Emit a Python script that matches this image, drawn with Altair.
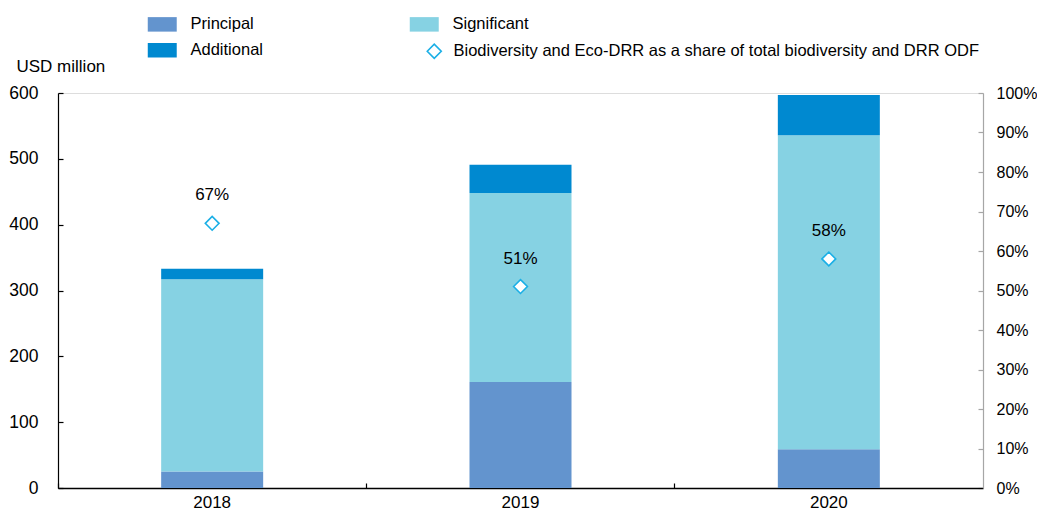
import altair as alt
import pandas as pd

years = ["2018", "2019", "2020"]
principal = [25, 161, 59]
significant = [292, 287, 477]
additional = [16, 43, 61]
share = [0.67, 0.51, 0.58]
categories = ["Principal", "Significant", "Additional"]
legend_order = ["Principal", "Additional", "Significant"]
colors = {"Principal": "#6394CE", "Significant": "#86D2E3", "Additional": "#0089D0"}
share_label = "Biodiversity and Eco-DRR as a share of total biodiversity and DRR ODF"
left_ticks = [0, 100, 200, 300, 400, 500, 600]
right_ticks = [0, 0.1, 0.2, 0.3, 0.4, 0.5, 0.6, 0.7, 0.8, 0.9, 1.0]

rows = []
for i, yr in enumerate(years):
    for j, (c, vals) in enumerate(zip(categories, [principal, significant, additional])):
        rows.append({"year": yr, "category": c, "value": vals[i], "order": j})
bars_df = pd.DataFrame(rows)
share_df = pd.DataFrame({"year": years, "share": share, "series": [share_label] * 3})

FONT = "Liberation Sans"
FS = 17
LFS = 16.5
DIAMOND = "#1AAFE6"
W = 925
H = 395

x_enc = alt.X(
    "year:N", title=None,
    scale=alt.Scale(paddingInner=0, paddingOuter=0),
    axis=alt.Axis(labelAngle=0, domainColor="black", domainWidth=1.5, ticks=False,
                  grid=True, gridDash=[0, H - 5, 6, 10000], gridColor="black", gridWidth=1.2,
                  bandPosition=0, labelFontSize=FS, labelPadding=6, labelColor="black",
                  labelFont=FONT),
)

bars = alt.Chart(bars_df).mark_bar(size=102).encode(
    x=x_enc,
    y=alt.Y("value:Q", stack="zero", scale=alt.Scale(domain=[0, 600]),
            axis=alt.Axis(values=left_ticks, title="USD million", titleAngle=0,
                          titleX=-42, titleY=-27, titleAlign="left", titleBaseline="middle",
                          titleFontSize=FS, titleFontWeight="normal", titleFont=FONT,
                          titleColor="black",
                          labelFontSize=17.5, labelFont=FONT, labelColor="black",
                          labelPadding=20, ticks=False, domainColor="black", domainWidth=1.2,
                          grid=True, gridDash=[5, 10000], gridColor="black", gridWidth=1.2)),
    color=alt.Color("category:N",
                    scale=alt.Scale(domain=legend_order,
                                    range=[colors[c] for c in legend_order]),
                    legend=alt.Legend(title=None, orient="none", legendX=96, legendY=-77,
                                      columns=2, columnPadding=146, rowPadding=9,
                                      symbolType="M-2,-1H2V1H-2Z", symbolSize=210,
                                      symbolStrokeWidth=0, labelFontSize=LFS, labelFont=FONT,
                                      labelColor="black", labelOffset=20)),
    order=alt.Order("order:Q"),
)

right_axis = alt.Axis(orient="right", values=right_ticks, format=".0%", title=None,
                      labelFontSize=16, labelFont=FONT, labelColor="black",
                      labelPadding=13, labelOverlap=False, ticks=False,
                      domainColor="#A6A6A6", domainWidth=1.2, grid=True,
                      gridDash=[5, 10000],
                      gridColor="#A6A6A6", gridWidth=1.2)

points = alt.Chart(share_df).mark_point(shape="diamond", filled=False, fill="white",
                                        fillOpacity=1, strokeWidth=1.6,
                                        size=190, opacity=1).encode(
    x=alt.X("year:N"),
    y=alt.Y("share:Q", scale=alt.Scale(domain=[0, 1]), axis=right_axis),
    stroke=alt.Stroke("series:N", scale=alt.Scale(domain=[share_label], range=[DIAMOND]),
                      legend=alt.Legend(title=None, orient="none", legendX=368, legendY=-50,
                                        symbolType="diamond", symbolFillColor="white",
                                        symbolStrokeColor=DIAMOND, symbolStrokeWidth=1.6,
                                        symbolSize=196, symbolOpacity=1,
                                        labelFontSize=LFS, labelFont=FONT, labelColor="black",
                                        labelOffset=11, labelLimit=800)),
)

labels = alt.Chart(share_df).mark_text(dy=-28, fontSize=FS, font=FONT, color="black").encode(
    x=alt.X("year:N"),
    y=alt.Y("share:Q", scale=alt.Scale(domain=[0, 1]), axis=right_axis),
    text=alt.Text("share:Q", format=".0%"),
)

right_layer = alt.layer(points, labels)

chart = alt.layer(bars, right_layer).resolve_scale(y="independent").properties(
    width=W, height=H, padding={"left": 0, "top": 8, "right": 0, "bottom": 0},
).configure_view(stroke=None).configure(font=FONT)

chart.save("out.html", embed_options={"renderer": "svg", "actions": False})
